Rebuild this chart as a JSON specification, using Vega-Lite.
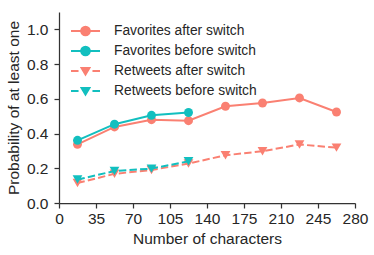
{
  "$schema": "https://vega.github.io/schema/vega-lite/v6.json",
  "width": 296,
  "height": 191,
  "autosize": {"type": "none"},
  "padding": {"left": 59, "top": 12, "right": 19, "bottom": 52},
  "background": "white",
  "config": {
    "font": "Liberation Sans",
    "view": {"stroke": null},
    "axis": {
      "grid": false,
      "domainColor": "#333333",
      "domainWidth": 1.25,
      "tickColor": "#333333",
      "tickWidth": 1.25,
      "tickSize": 5,
      "labelFontSize": 15.5,
      "labelColor": "#262626",
      "labelFlush": false,
      "titleFontSize": 15.5,
      "titleFontWeight": "normal",
      "titleColor": "#262626"
    },
    "legend": {"labelFontSize": 13.8, "labelColor": "#262626"}
  },
  "data": {
    "values": [
      {"series": "Favorites after switch", "chars": 17.5, "prob": 0.338},
      {"series": "Favorites after switch", "chars": 52.5, "prob": 0.438},
      {"series": "Favorites after switch", "chars": 87.5, "prob": 0.48},
      {"series": "Favorites after switch", "chars": 122.5, "prob": 0.474},
      {"series": "Favorites after switch", "chars": 157.5, "prob": 0.557},
      {"series": "Favorites after switch", "chars": 192.5, "prob": 0.576},
      {"series": "Favorites after switch", "chars": 227.5, "prob": 0.605},
      {"series": "Favorites after switch", "chars": 262.5, "prob": 0.524},
      {"series": "Favorites before switch", "chars": 17.5, "prob": 0.361},
      {"series": "Favorites before switch", "chars": 52.5, "prob": 0.454},
      {"series": "Favorites before switch", "chars": 87.5, "prob": 0.505},
      {"series": "Favorites before switch", "chars": 122.5, "prob": 0.521},
      {"series": "Retweets after switch", "chars": 17.5, "prob": 0.115},
      {"series": "Retweets after switch", "chars": 52.5, "prob": 0.168},
      {"series": "Retweets after switch", "chars": 87.5, "prob": 0.19},
      {"series": "Retweets after switch", "chars": 122.5, "prob": 0.227},
      {"series": "Retweets after switch", "chars": 157.5, "prob": 0.275},
      {"series": "Retweets after switch", "chars": 192.5, "prob": 0.298},
      {"series": "Retweets after switch", "chars": 227.5, "prob": 0.337},
      {"series": "Retweets after switch", "chars": 262.5, "prob": 0.319},
      {"series": "Retweets before switch", "chars": 17.5, "prob": 0.135},
      {"series": "Retweets before switch", "chars": 52.5, "prob": 0.184},
      {"series": "Retweets before switch", "chars": 87.5, "prob": 0.198},
      {"series": "Retweets before switch", "chars": 122.5, "prob": 0.24}
    ]
  },
  "encoding": {
    "x": {
      "field": "chars", "type": "quantitative",
      "scale": {"domain": [0, 280], "nice": false, "zero": false},
      "axis": {"values": [0, 35, 70, 105, 140, 175, 210, 245, 280], "title": "Number of characters", "labelPadding": 3, "titlePadding": 5}
    },
    "y": {
      "field": "prob", "type": "quantitative",
      "scale": {"domain": [0, 1.1], "nice": false},
      "axis": {"values": [0, 0.2, 0.4, 0.6, 0.8, 1.0], "format": ".1f", "title": "Probability of at least one", "labelPadding": 6, "titlePadding": 5}
    },
    "color": {
      "field": "series", "type": "nominal",
      "scale": {
        "domain": ["Favorites after switch", "Favorites before switch", "Retweets after switch", "Retweets before switch"],
        "range": ["#FA8072", "#12BFBF", "#FA8072", "#12BFBF"]
      },
      "legend": {
        "title": null,
        "orient": "none",
        "legendX": 11,
        "legendY": 11,
        "padding": 0,
        "symbolSize": 841,
        "clipHeight": 16,
        "rowPadding": 4,
        "labelOffset": 13,
        "encode": {
          "symbols": {
            "update": {
              "shape": {"signal": "indexof(datum.value, 'Favorites') >= 0 ? 'M-1,0L1,0M0.3,0A0.3,0.3,0,1,1,-0.3,0A0.3,0.3,0,1,1,0.3,0Z' : 'M-1,0L-0.48,0M0.48,0L1,0M-0.27,-0.21L0.27,-0.21L0,0.24Z'"},
              "fill": {"signal": "scale('color', datum.value)"},
              "stroke": {"signal": "scale('color', datum.value)"},
              "strokeWidth": {"value": 2},
              "opacity": {"value": 1}
            }
          }
        }
      }
    }
  },
  "layer": [
    {
      "transform": [{"filter": "datum.series === 'Favorites after switch'"}],
      "mark": {"type": "line", "strokeWidth": 2, "point": {"filled": true, "shape": "circle", "size": 80, "opacity": 1}}
    },
    {
      "transform": [{"filter": "datum.series === 'Favorites before switch'"}],
      "mark": {"type": "line", "strokeWidth": 2, "point": {"filled": true, "shape": "circle", "size": 80, "opacity": 1}}
    },
    {
      "transform": [{"filter": "datum.series === 'Retweets after switch'"}],
      "mark": {"type": "line", "strokeWidth": 2, "strokeDash": [7.4, 3.2], "point": {"filled": true, "shape": "triangle-down", "size": 95, "opacity": 1}}
    },
    {
      "transform": [{"filter": "datum.series === 'Retweets before switch'"}],
      "mark": {"type": "line", "strokeWidth": 2, "strokeDash": [7.4, 3.2], "point": {"filled": true, "shape": "triangle-down", "size": 95, "opacity": 1}}
    }
  ]
}
